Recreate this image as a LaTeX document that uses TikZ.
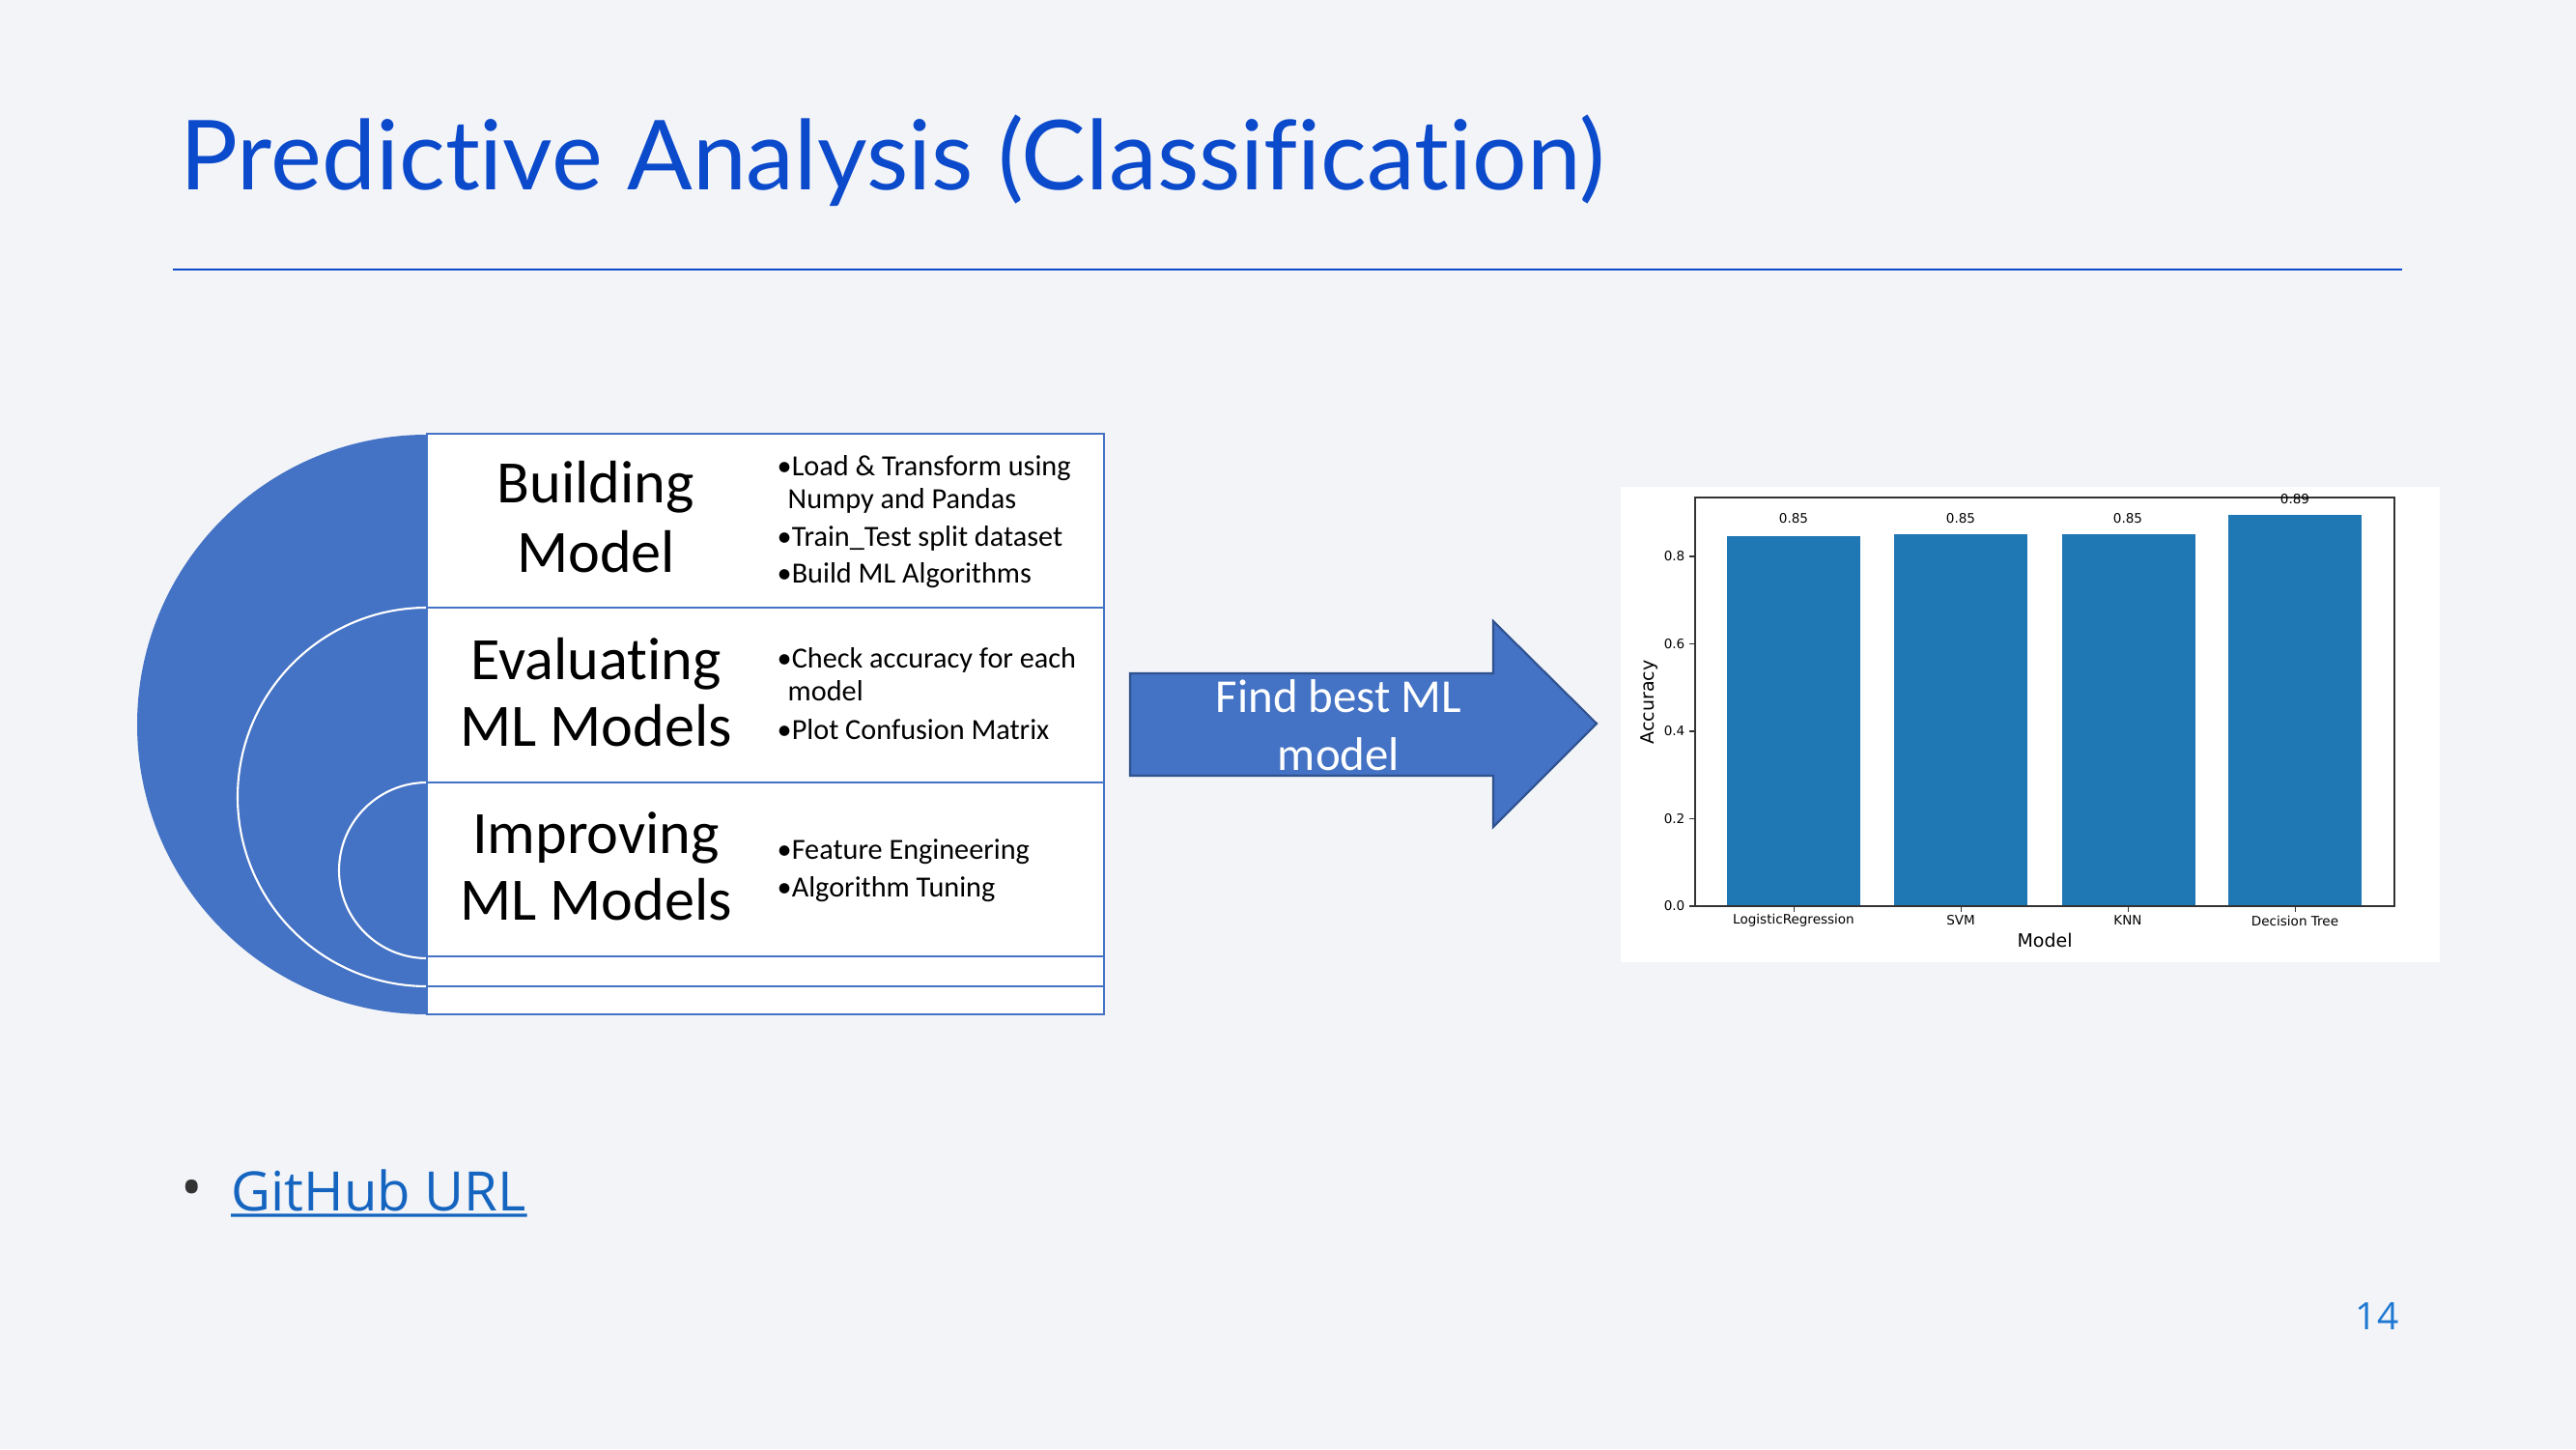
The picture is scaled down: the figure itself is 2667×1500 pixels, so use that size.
\documentclass[tikz,border=0pt]{standalone}
\usepackage{fontspec}
\setmainfont[Ligatures=NoCommon]{Carlito}
\newfontfamily\titlefont[Ligatures=NoCommon]{Lato}
\newfontfamily\chartfont{DejaVu Sans}
\newfontfamily\uifont{Open Sans}
\definecolor{pagebg}{RGB}{242,244,248}
\definecolor{titleblue}{RGB}{12,74,204}
\definecolor{accent}{RGB}{68,114,196}
\definecolor{accentdark}{RGB}{47,82,143}
\definecolor{barblue}{RGB}{31,119,180}
\definecolor{linkblue}{RGB}{21,101,192}
\definecolor{numblue}{RGB}{30,120,210}
\begin{document}
\begin{tikzpicture}[x=0.01cm,y=-0.01cm,
  heading/.style={font=\fontsize{17.7}{20}\selectfont, anchor=base, inner sep=0pt},
  btext/.style={font=\fontsize{8.6}{10}\selectfont, anchor=base west, inner sep=0pt},
  stage/.style={draw=accent, fill=white, line width=0.6pt},
  ring/.style={fill=accent, draw=white, line width=0.6pt},
  tick/.style={font=\chartfont\fontsize{3.85}{4.5}\selectfont, inner sep=0pt},
  axlabel/.style={font=\chartfont\fontsize{5.4}{6.5}\selectfont, inner sep=0pt}]

% page
\fill[pagebg] (0,0) rectangle (2667,1500);
\useasboundingbox (0,0) rectangle (2667,1500);

% title and rule
\node[anchor=base west, inner sep=0pt, text=titleblue,
      font=\titlefont\fontsize{28.45}{33}\selectfont] (title) at (186,197)
      {Predictive Analysis (Classification)};
\draw[titleblue, line width=0.8pt] (179,279) -- (2487,279);

% nested half-circles
\fill[accent] (442,750) circle[radius=300];
\filldraw[ring] (442,825) circle[radius=196];
\filldraw[ring] (442,901) circle[radius=91];

% stage boxes
\filldraw[stage] (442,449) rectangle (1143,629);
\filldraw[stage] (442,629) rectangle (1143,810);
\filldraw[stage] (442,810) rectangle (1143,990);
\filldraw[stage] (442,990) rectangle (1143,1021);
\filldraw[stage] (442,1021) rectangle (1143,1050);

% stage headings
\node[heading] (h1a) at (617,520) {Building};
\node[heading] (h1b) at (617,592) {Model};
\node[heading] (h2a) at (617,703) {Evaluating};
\node[heading] (h2b) at (617,772) {ML Models};
\node[heading] (h3a) at (617,883) {Improving};
\node[heading] (h3b) at (617,952) {ML Models};

% stage details
\node[btext] (b1a) at (804,492) {•Load \& Transform using};
\node[btext] (b1b) at (815,526) {Numpy and Pandas};
\node[btext] (b1c) at (804,565) {•Train\_Test split dataset};
\node[btext] (b1d) at (804,603) {•Build ML Algorithms};
\node[btext] (b2a) at (804,691) {•Check accuracy for each};
\node[btext] (b2b) at (815,725) {model};
\node[btext] (b2c) at (804,765) {•Plot Confusion Matrix};
\node[btext] (b3a) at (804,889) {•Feature Engineering};
\node[btext] (b3b) at (804,928) {•Algorithm Tuning};

% block arrow
\filldraw[fill=accent, draw=accentdark, line width=0.6pt]
  (1170,697) -- (1546,697) -- (1546,643) -- (1653,749) -- (1546,856)
  -- (1546,803) -- (1170,803) -- cycle;
\node[anchor=base, inner sep=0pt, text=white, font=\fontsize{13.9}{17}\selectfont]
  (ar1) at (1386,737) {Find best ML};
\node[anchor=base, inner sep=0pt, text=white, font=\fontsize{13.9}{17}\selectfont]
  (ar2) at (1386,797) {model};

% accuracy chart
\fill[white] (1678,504) rectangle (2526,996);
\fill[barblue] (1788,938) rectangle (1926,555);
\fill[barblue] (1961,938) rectangle (2099,553);
\fill[barblue] (2135,938) rectangle (2273,553);
\fill[barblue] (2307,938) rectangle (2445,533);
\draw[black!80, line width=0.35pt] (1755,515) rectangle (2479,938);
\foreach \v/\t in {0/0.0,1/0.2,2/0.4,3/0.6,4/0.8}{
  \draw[black!80, line width=0.3pt] (1755,938-90.5*\v) -- (1749,938-90.5*\v);
  \node[tick, anchor=east] (yt\v) at (1745,938-90.5*\v) {\t};
}
\foreach \i/\t in {0/LogisticRegression,1/SVM,2/KNN,3/Decision Tree}{
  \draw[black!80, line width=0.3pt] (1857+173*\i,938) -- (1857+173*\i,944);
  \node[tick, anchor=center] (xt\i) at (1857+173*\i,953) {\t};
}
\node[tick] (v0) at (1857,537) {0.85};
\node[tick] (v1) at (2030,537) {0.85};
\node[tick] (v2) at (2203,537) {0.85};
\node[tick] (v3) at (2376,517) {0.89};
\node[axlabel] (xl) at (2117,973) {Model};
\node[axlabel, rotate=90] (yl) at (1708,727) {Accuracy};

% link line
\node[inner sep=0pt, text=black!80, font=\uifont\fontsize{17}{20}\selectfont]
  (dot) at (199,1236) {•};
\node[anchor=base west, inner sep=0pt, text=linkblue,
      font=\uifont\fontsize{16}{20}\selectfont] (gh) at (239,1253) {GitHub URL};
\draw[linkblue, line width=0.9pt] (gh.base west) ++(0,5) -- ([yshift=-1.4pt]gh.base east);

% page number
\node[inner sep=0pt, text=numblue, font=\uifont\fontsize{11.1}{13}\selectfont]
  (pn) at (2461,1362) {14};
\end{tikzpicture}
\end{document}
